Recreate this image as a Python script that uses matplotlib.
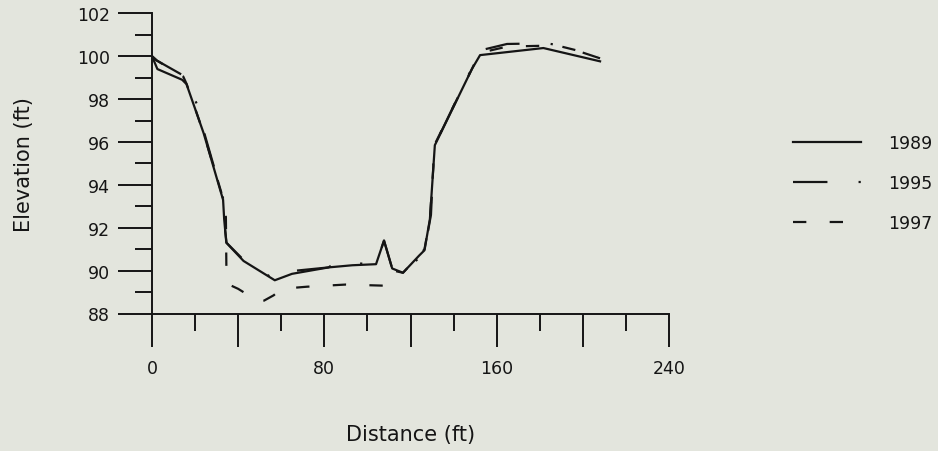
import matplotlib
matplotlib.use("Agg")
import matplotlib.pyplot as plt
from matplotlib.ticker import MultipleLocator

# Channel cross-section survey: distance across (ft) vs. bed elevation (ft)
dist_1989 = [0, 2.5, 14, 16, 24, 33, 33.5, 34.5, 42.5, 57, 65, 82, 93, 104,
             107.7, 111.5, 116.5, 124, 126.5, 129, 131.3, 148.5, 152.3, 181.7, 208]
elev_1989 = [100.0, 99.4, 98.9, 98.7, 96.4, 93.3, 92.4, 91.3, 90.45, 89.55, 89.85,
             90.15, 90.25, 90.3, 91.4, 90.1, 89.9, 90.7, 90.95, 92.4, 95.85, 99.4,
             100.05, 100.38, 99.76]

dist_1995 = [0, 2.2, 14.5, 16.1, 20.7, 24.6, 33.2, 33.6, 34.6, 42.5, 57.5, 63, 67,
             82, 86, 92, 104, 107.7, 111.5, 116.5, 124, 126.8, 129.5, 131, 148.5,
             151.5, 164.8, 183, 190, 208]
elev_1995 = [100.0, 99.8, 99.1, 98.7, 97.8, 96.3, 93.3, 92.2, 91.3, 90.5, 89.55,
             89.8, 90.0, 90.15, 90.45, 90.35, 90.3, 91.4, 90.1, 89.9, 90.6, 91.1,
             92.6, 95.8, 99.45, 100.25, 100.57, 100.6, 100.5, 99.9]

dist_1997 = [0, 2.2, 14.5, 16.1, 24, 33.2, 34.3, 34.6, 40, 44, 48, 52, 56.5, 60,
             72, 90, 107, 109, 112, 116.5, 124, 126.5, 129, 131.3, 148.5, 152,
             165, 188, 196, 207]
elev_1997 = [100.0, 99.8, 99.05, 98.7, 96.4, 93.3, 92.5, 89.4, 89.15, 88.9, 88.55,
             88.6, 88.85, 89.15, 89.25, 89.35, 89.3, 89.3, 90.0, 89.9, 90.7, 91.0,
             92.4, 95.9, 99.4, 100.15, 100.45, 100.5, 100.3, 100.0]

series_labels = ["1989", "1995", "1997"]

x_limits = (0, 240)
y_limits = (88, 102)
x_label_ticks = [0, 80, 160, 240]

BG = "#e3e5dd"
INK = "#151515"

fig = plt.figure(figsize=(9.38, 4.52), dpi=100, facecolor=BG)
ax = fig.add_axes([152 / 938, 1 - 314.5 / 452, (669 - 152) / 938, (314.5 - 14.3) / 452])
ax.set_facecolor(BG)

ax.plot(dist_1989, elev_1989, color=INK, lw=1.6, solid_joinstyle="round",
        label=series_labels[0])
ax.plot(dist_1995, elev_1995, color=INK, lw=1.6, linestyle=(0, (15.5, 14.0, 1.0, 14.0)),
        dash_capstyle="butt", label=series_labels[1])
ax.plot(dist_1997, elev_1997, color=INK, lw=1.6, linestyle=(0, (6.0, 10.5)),
        dash_capstyle="butt", label=series_labels[2])

ax.set_xlim(*x_limits)
ax.set_ylim(*y_limits)

for side in ("top", "right"):
    ax.spines[side].set_visible(False)
for side in ("left", "bottom"):
    ax.spines[side].set_linewidth(1.4)
    ax.spines[side].set_color(INK)

# x: long ticks every 40 ft (labelled every 80), short ticks every 20 ft
ax.xaxis.set_major_locator(MultipleLocator(40))
ax.xaxis.set_minor_locator(MultipleLocator(20))
ax.set_xticklabels([str(int(v)) if v in x_label_ticks else ""
                    for v in ax.get_xticks()])
ax.yaxis.set_major_locator(MultipleLocator(2))
ax.yaxis.set_minor_locator(MultipleLocator(1))

ax.tick_params(axis="both", which="both", direction="out", color=INK, width=1.4,
               labelsize=12.5, labelcolor=INK)
ax.tick_params(axis="y", which="major", length=24.5, pad=5.5)
ax.tick_params(axis="y", which="minor", length=12.2)
ax.tick_params(axis="x", which="major", length=23.8, pad=9)
ax.tick_params(axis="x", which="minor", length=12.2)

ax.set_xlabel("Distance (ft)", fontsize=15, color=INK, labelpad=34)
ax.set_ylabel("Elevation (ft)", fontsize=15, color=INK, labelpad=31)

leg = ax.legend(loc="center left", bbox_to_anchor=(793 / 938, 1 - 184 / 452),
                bbox_transform=fig.transFigure, frameon=False, fontsize=12.5,
                handlelength=3.9, handletextpad=1.6, labelspacing=1.28,
                borderpad=0, borderaxespad=0)
for t in leg.get_texts():
    t.set_color(INK)

fig.savefig("out.png", dpi=100, facecolor=BG)
